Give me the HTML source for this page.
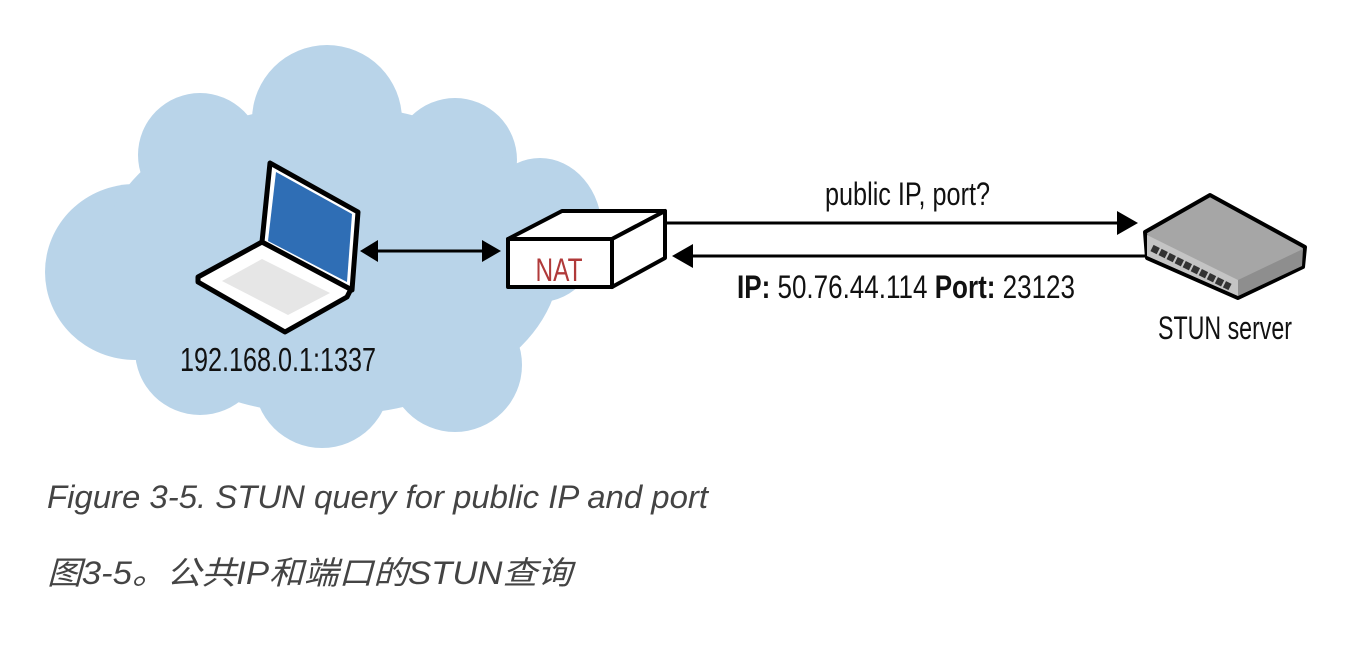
<!DOCTYPE html>
<html><head><meta charset="utf-8"><style>
html,body{margin:0;padding:0;background:#fff;width:1356px;height:658px;overflow:hidden}
svg{display:block}
</style></head><body>
<svg width="1356" height="658" viewBox="0 0 1356 658" xmlns="http://www.w3.org/2000/svg">
<g fill="#b9d4e9">
<circle cx="327" cy="120" r="75"/>
<circle cx="200" cy="155" r="62"/>
<circle cx="455" cy="160" r="62"/>
<ellipse cx="540" cy="230" rx="62" ry="72"/>
<ellipse cx="135" cy="272" rx="90" ry="88"/>
<circle cx="200" cy="350" r="65"/>
<circle cx="322" cy="380" r="68"/>
<circle cx="455" cy="365" r="67"/>
<ellipse cx="330" cy="260" rx="230" ry="155"/>
<rect x="200" y="160" width="290" height="220"/>
</g>
<!-- laptop -->
<g stroke="#000" stroke-width="5" stroke-linejoin="round">
<polygon points="198,277 262,242 352,287 347,297 285,332 198,282" fill="#fff"/>
<polygon points="270,163 358,212 352,290 262,242" fill="#fff"/>
</g>
<polygon points="276,172 352,214 347,282 268,241" fill="#2f6eb5"/>
<polygon points="222,281 262,259 330,293 288,315" fill="#e6e6e6"/>
<!-- laptop-NAT arrow -->
<line x1="372" y1="251" x2="488" y2="251" stroke="#000" stroke-width="3"/>
<polygon points="360,251 378,240 378,262" fill="#000"/>
<polygon points="501,251 482,240 482,262" fill="#000"/>
<!-- NAT -->
<g stroke="#000" stroke-width="4" stroke-linejoin="round" fill="#fff">
<polygon points="508,239 562,211 665,211 612,239"/>
<polygon points="612,239 665,211 665,258 612,287"/>
<rect x="508" y="239" width="104" height="48"/>
</g>
<text x="559" y="281" text-anchor="middle" font-family="Liberation Sans Narrow, Liberation Sans, sans-serif" font-size="32" fill="#b03a3a" textLength="47" lengthAdjust="spacingAndGlyphs">NAT</text>
<!-- arrows -->
<line x1="665" y1="223" x2="1120" y2="223" stroke="#000" stroke-width="3"/>
<polygon points="1138,223 1117,211 1117,235" fill="#000"/>
<line x1="690" y1="256" x2="1150" y2="256" stroke="#000" stroke-width="3"/>
<polygon points="672,256 693,244 693,268" fill="#000"/>
<!-- switch -->
<g stroke="#000" stroke-width="4" stroke-linejoin="round">
<polygon points="1145,232 1210,195 1305,247 1303,267 1238,298 1147,258" fill="#a6a6a6"/>
</g>
<polygon points="1147,235 1238,280 1238,296 1147,256" fill="#c4c4c4"/>
<polygon points="1238,280 1303,249 1302,266 1238,296" fill="#8e8e8e"/>
<g stroke="#333" stroke-width="7" stroke-dasharray="7,2">
<line x1="1152" y1="248" x2="1230" y2="287"/>
</g>
<!-- texts -->
<g font-family="Liberation Sans Narrow, Liberation Sans, sans-serif" fill="#111">
<text x="180" y="371" font-size="33" textLength="196" lengthAdjust="spacingAndGlyphs">192.168.0.1:1337</text>
<text x="825" y="205" font-size="32" textLength="165" lengthAdjust="spacingAndGlyphs">public IP, port?</text>
<text x="737" y="298" font-size="32" textLength="338" lengthAdjust="spacingAndGlyphs"><tspan font-weight="bold">IP:</tspan> 50.76.44.114  <tspan font-weight="bold">Port:</tspan> 23123</text>
<text x="1158" y="339" font-size="32" textLength="134" lengthAdjust="spacingAndGlyphs">STUN server</text>
</g>
<g font-family="Liberation Sans, Noto Sans CJK SC, sans-serif" font-style="italic" fill="#444">
<text x="47" y="508" font-size="32" textLength="661" lengthAdjust="spacingAndGlyphs">Figure 3-5. STUN query for public IP and port</text>
<text x="47" y="584" font-size="32" textLength="525" lengthAdjust="spacingAndGlyphs">图3-5。公共IP和端口的STUN查询</text>
</g>
</svg>
</body></html>
